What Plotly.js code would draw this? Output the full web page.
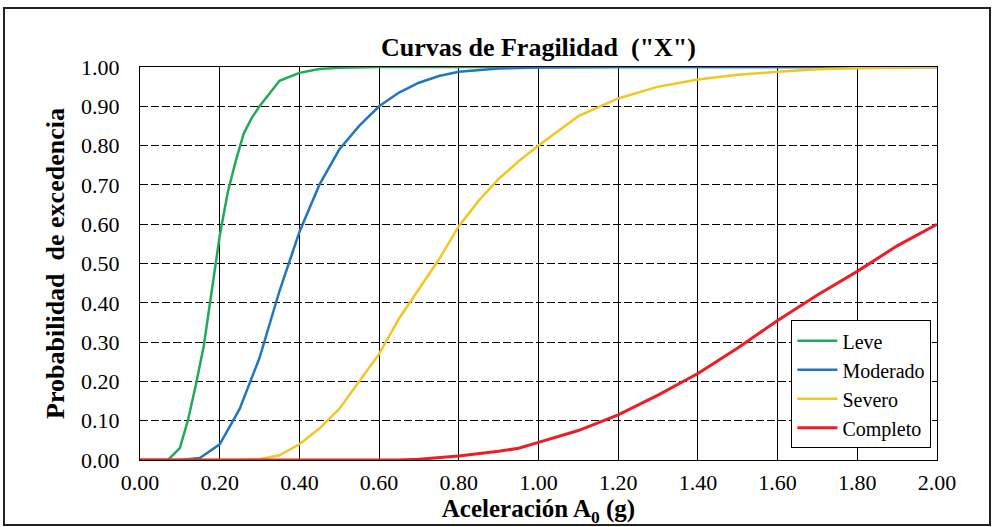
<!DOCTYPE html>
<html>
<head>
<meta charset="utf-8">
<script src="https://cdn.plot.ly/plotly-3.0.1.min.js"></script>
<style>
  html, body { margin: 0; padding: 0; background: #fff; }
  #wrap { position: relative; width: 993px; height: 527px; }
  #chart { width: 993px; height: 527px; }
  #frame { position: absolute; left: 3px; top: 7px; width: 984px; height: 515px; border: 2px solid #222; pointer-events: none; }
</style>
</head>
<body>
<div id="wrap">
  <div id="chart"></div>
  <div id="frame"></div>
</div>
<script>
// Series names
const seriesNames = ["Leve", "Moderado", "Severo", "Completo"];
const seriesColors = ["#1faa5c", "#2176c0", "#f2c623", "#ee1c24"];

// Leve
const leveX = [0.00, 0.05, 0.07, 0.10, 0.12, 0.14, 0.16, 0.18, 0.20, 0.22, 0.24, 0.26, 0.28, 0.30, 0.35, 0.40, 0.45, 0.50, 0.60, 0.80, 1.00, 1.20, 1.40, 1.60, 1.80, 2.00];
const leveY = [0.000, 0.000, 0.000, 0.030, 0.100, 0.190, 0.290, 0.430, 0.570, 0.680, 0.760, 0.830, 0.870, 0.900, 0.965, 0.985, 0.995, 0.998, 1.000, 1.000, 1.000, 1.000, 1.000, 1.000, 1.000, 1.000];

// Moderado
const modX = [0.00, 0.10, 0.15, 0.20, 0.25, 0.30, 0.35, 0.40, 0.45, 0.50, 0.55, 0.60, 0.65, 0.70, 0.75, 0.80, 0.90, 1.00, 1.20, 1.40, 1.60, 1.80, 2.00];
const modY = [0.000, 0.000, 0.005, 0.040, 0.130, 0.260, 0.430, 0.580, 0.700, 0.790, 0.850, 0.900, 0.935, 0.960, 0.977, 0.988, 0.996, 0.999, 1.000, 1.000, 1.000, 1.000, 1.000];

// Severo
const sevX = [0.00, 0.25, 0.30, 0.35, 0.40, 0.45, 0.50, 0.55, 0.60, 0.65, 0.70, 0.75, 0.80, 0.85, 0.90, 0.95, 1.00, 1.10, 1.20, 1.30, 1.40, 1.50, 1.60, 1.70, 1.80, 1.90, 2.00];
const sevY = [0.000, 0.000, 0.002, 0.012, 0.040, 0.080, 0.130, 0.200, 0.270, 0.360, 0.435, 0.510, 0.595, 0.660, 0.715, 0.760, 0.800, 0.875, 0.920, 0.950, 0.968, 0.980, 0.988, 0.994, 0.997, 0.999, 1.000];

// Completo
const comX = [0.00, 0.20, 0.40, 0.60, 0.65, 0.70, 0.80, 0.90, 0.95, 1.00, 1.10, 1.20, 1.30, 1.40, 1.50, 1.60, 1.70, 1.80, 1.90, 2.00];
const comY = [0.000, 0.000, 0.000, 0.000, 0.000, 0.002, 0.010, 0.022, 0.030, 0.045, 0.075, 0.115, 0.165, 0.220, 0.285, 0.355, 0.420, 0.480, 0.545, 0.600];

// Tick labels
const xTickVals = [0.0, 0.2, 0.4, 0.6, 0.8, 1.0, 1.2, 1.4, 1.6, 1.8, 2.0];
const xTickText = ["0.00", "0.20", "0.40", "0.60", "0.80", "1.00", "1.20", "1.40", "1.60", "1.80", "2.00"];
const yTickVals = [0.0, 0.1, 0.2, 0.3, 0.4, 0.5, 0.6, 0.7, 0.8, 0.9, 1.0];
const yTickText = ["0.00", "0.10", "0.20", "0.30", "0.40", "0.50", "0.60", "0.70", "0.80", "0.90", "1.00"];

const xs = [leveX, modX, sevX, comX];
const ys = [leveY, modY, sevY, comY];

const traces = seriesNames.map((n, i) => ({
  type: "scatter",
  mode: "lines",
  name: n,
  x: xs[i],
  y: ys[i],
  line: { color: seriesColors[i], width: i === 3 ? 3 : 2.5 },
  hoverinfo: "skip"
}));

const serif = "Liberation Serif, Times New Roman, serif";

const layout = {
  width: 993,
  height: 527,
  margin: { l: 140, r: 56, t: 67, b: 67 },
  paper_bgcolor: "#ffffff",
  plot_bgcolor: "#ffffff",
  font: { family: serif, color: "#000" },
  title: {
    text: "<b>Curvas de Fragilidad  (\"X\")</b>",
    font: { family: serif, size: 26, color: "#000" },
    x: 0.5, xref: "paper", xanchor: "center",
    y: 1 - 47 / 527, yref: "container", yanchor: "middle"
  },
  xaxis: {
    range: [0, 2],
    tickvals: xTickVals,
    ticktext: xTickText,
    tickfont: { family: serif, size: 22, color: "#000" },
    ticklabelstandoff: 3,
    showgrid: true,
    gridcolor: "#000",
    gridwidth: 1,
    showline: true,
    linecolor: "#000",
    linewidth: 1,
    mirror: true,
    zeroline: false,
    ticks: "",
    ticklen: 0,
    title: {
      text: "<b>Aceleración A<sub>0</sub> (g)</b>",
      font: { family: serif, size: 25, color: "#000" },
      standoff: 3
    }
  },
  yaxis: {
    range: [0, 1],
    tickvals: yTickVals,
    ticktext: yTickText,
    tickfont: { family: serif, size: 22, color: "#000" },
    ticklabelstandoff: 15,
    showgrid: true,
    gridcolor: "#000",
    gridwidth: 1,
    griddash: "8px,3px",
    showline: true,
    linecolor: "#000",
    linewidth: 1,
    mirror: true,
    zeroline: false,
    ticks: "",
    ticklen: 0,
    title: {
      text: "<b>Probabilidad  de excedencia</b>",
      font: { family: serif, size: 26, color: "#000" },
      standoff: 8
    }
  },
  showlegend: true,
  legend: {
    x: 0.993, xanchor: "right",
    y: 0.03, yanchor: "bottom",
    bgcolor: "#ffffff",
    bordercolor: "#000",
    borderwidth: 1,
    font: { family: serif, size: 20, color: "#000" },
    tracegroupgap: 0,
    itemwidth: 40
  }
};

Plotly.newPlot("chart", traces, layout, { displayModeBar: false, staticPlot: true });
</script>
</body>
</html>
